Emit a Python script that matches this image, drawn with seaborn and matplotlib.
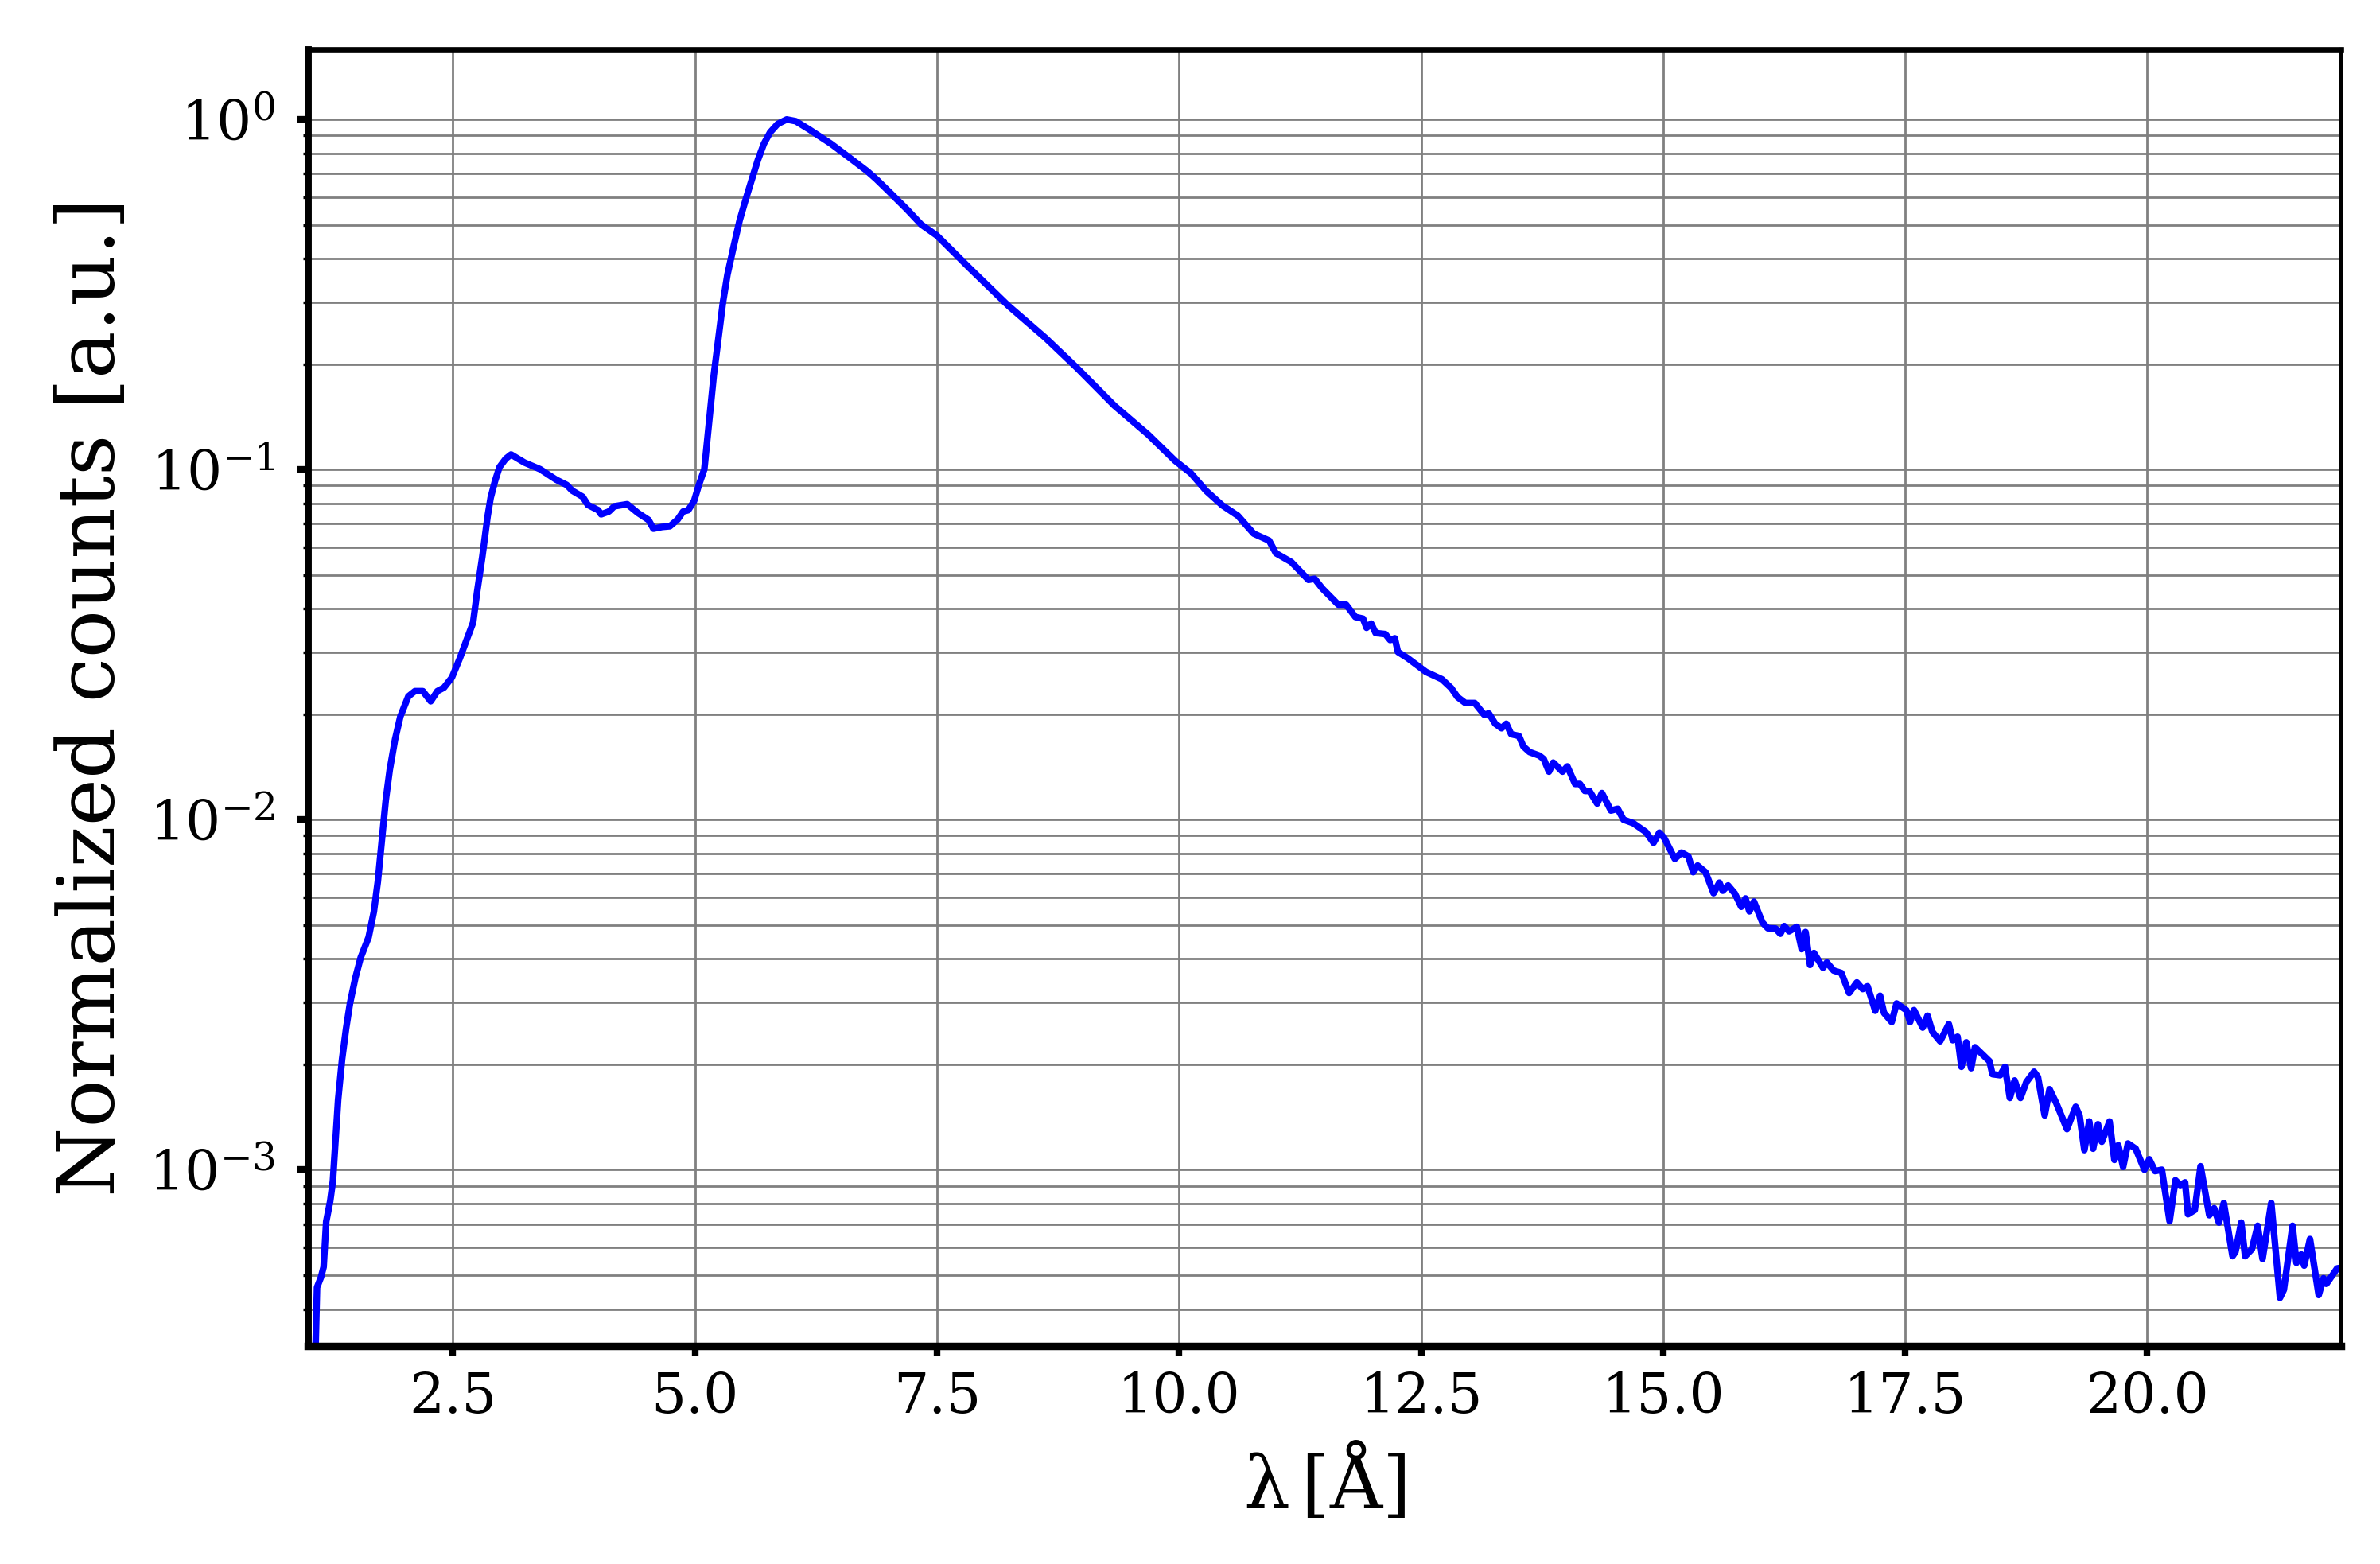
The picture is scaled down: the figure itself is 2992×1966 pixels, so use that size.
#%% imports
import numpy as np
import matplotlib.pyplot as plt
import seaborn as sns
from matplotlib.ticker import MultipleLocator, LogLocator

#%% data (counts kept as log10 of normalized counts)
wavelength = [
    1.06, 1.082, 1.088, 1.096, 1.137, 1.164, 1.191, 1.232, 1.26, 1.287,
    1.314, 1.355, 1.396, 1.437, 1.492, 1.547, 1.629, 1.683, 1.724, 1.765,
    1.806, 1.847, 1.902, 1.957, 2.039, 2.107, 2.189, 2.27, 2.339, 2.407,
    2.489, 2.571, 2.639, 2.708, 2.749, 2.803, 2.857, 2.889, 2.934, 2.98,
    3.045, 3.10, 3.238, 3.40, 3.566, 3.675, 3.73, 3.84, 3.893, 4.0,
    4.03, 4.11, 4.166, 4.30, 4.41, 4.52, 4.57, 4.66, 4.74, 4.82,
    4.877, 4.93, 4.99, 5.04, 5.096, 5.148, 5.194, 5.241, 5.288, 5.335,
    5.398, 5.461, 5.524, 5.586, 5.649, 5.712, 5.775, 5.853, 5.947, 6.041,
    6.182, 6.402, 6.59, 6.78, 6.87, 7.0, 7.186, 7.336, 7.5, 7.83,
    8.24, 8.62, 8.95, 9.33, 9.68, 9.959, 10.12, 10.28, 10.445, 10.607,
    10.77, 10.93, 11.0, 11.158, 11.336, 11.40, 11.48, 11.644, 11.725, 11.82,
    11.90, 11.936, 11.984, 12.03, 12.13, 12.18, 12.228, 12.26, 12.357, 12.55,
    12.714, 12.81, 12.876, 12.957, 13.054, 13.15, 13.20, 13.265, 13.33, 13.38,
    13.43, 13.51, 13.556, 13.62, 13.72, 13.766, 13.82, 13.864, 13.96, 14.01,
    14.09, 14.14, 14.19, 14.238, 14.318, 14.367, 14.46, 14.53, 14.59, 14.69,
    14.82, 14.90, 14.96, 15.01, 15.12, 15.19, 15.26, 15.31, 15.355, 15.437,
    15.52, 15.58, 15.615, 15.67, 15.74, 15.806, 15.85, 15.89, 15.937, 16.025,
    16.08, 16.16, 16.21, 16.25, 16.30, 16.38, 16.43, 16.47, 16.516, 16.557,
    16.65, 16.69, 16.76, 16.84, 16.92, 17.0, 17.06, 17.11, 17.19, 17.24,
    17.28, 17.36, 17.41, 17.51, 17.55, 17.59, 17.68, 17.73, 17.78, 17.86,
    17.95, 17.99, 18.04, 18.08, 18.13, 18.18, 18.22, 18.31, 18.37, 18.40,
    18.48, 18.53, 18.58, 18.63, 18.69, 18.75, 18.83, 18.87, 18.94, 18.99,
    19.06, 19.17, 19.26, 19.30, 19.35, 19.40, 19.44, 19.49, 19.53, 19.61,
    19.66, 19.70, 19.75, 19.80, 19.88, 19.97, 20.02, 20.08, 20.15, 20.23,
    20.29, 20.34, 20.39, 20.42, 20.49, 20.55, 20.64, 20.69, 20.74, 20.79,
    20.88, 20.91, 20.97, 21.01, 21.08, 21.14, 21.19, 21.28, 21.37, 21.41,
    21.50, 21.54, 21.59, 21.62, 21.68, 21.77, 21.82, 21.85, 21.96, 22.0,
]
log_counts = [
    -3.70, -3.495, -3.423, -3.336, -3.307, -3.278, -3.148, -3.09, -3.032, -2.916,
    -2.80, -2.684, -2.597, -2.524, -2.452, -2.394, -2.336, -2.263, -2.177, -2.06,
    -1.944, -1.858, -1.771, -1.705, -1.648, -1.633, -1.633, -1.662, -1.633, -1.623,
    -1.594, -1.539, -1.488, -1.437, -1.35, -1.249, -1.135, -1.081, -1.033, -0.993,
    -0.969, -0.957, -0.98, -0.999, -1.029, -1.044, -1.06, -1.078, -1.101, -1.116,
    -1.128, -1.12, -1.105, -1.099, -1.124, -1.144, -1.169, -1.164, -1.162, -1.143,
    -1.12, -1.116, -1.09, -1.044, -0.999, -0.855, -0.73, -0.627, -0.523, -0.443,
    -0.364, -0.288, -0.228, -0.172, -0.116, -0.069, -0.037, -0.013, 0.0, -0.005,
    -0.029, -0.069, -0.108, -0.148, -0.170, -0.205, -0.256, -0.30, -0.332, -0.423,
    -0.533, -0.624, -0.711, -0.817, -0.900, -0.975, -1.010, -1.061, -1.102, -1.132,
    -1.183, -1.203, -1.239, -1.264, -1.315, -1.312, -1.34, -1.386, -1.386, -1.421,
    -1.426, -1.452, -1.44, -1.467, -1.47, -1.487, -1.482, -1.521, -1.538, -1.578,
    -1.599, -1.624, -1.65, -1.667, -1.667, -1.70, -1.697, -1.726, -1.739, -1.726,
    -1.756, -1.761, -1.791, -1.807, -1.817, -1.827, -1.863, -1.837, -1.863, -1.848,
    -1.898, -1.898, -1.918, -1.918, -1.954, -1.924, -1.974, -1.969, -2.0, -2.01,
    -2.035, -2.066, -2.037, -2.052, -2.112, -2.094, -2.105, -2.15, -2.131, -2.15,
    -2.21, -2.18, -2.203, -2.188, -2.211, -2.249, -2.225, -2.262, -2.234, -2.294,
    -2.31, -2.311, -2.326, -2.304, -2.319, -2.306, -2.37, -2.321, -2.415, -2.381,
    -2.423, -2.408, -2.431, -2.438, -2.495, -2.465, -2.484, -2.476, -2.546, -2.503,
    -2.552, -2.578, -2.525, -2.544, -2.578, -2.544, -2.594, -2.56, -2.606, -2.633,
    -2.584, -2.63, -2.62, -2.706, -2.636, -2.71, -2.65, -2.674, -2.69, -2.727,
    -2.73, -2.706, -2.795, -2.745, -2.795, -2.75, -2.72, -2.735, -2.845, -2.77,
    -2.81, -2.884, -2.82, -2.845, -2.944, -2.862, -2.94, -2.87, -2.92, -2.862,
    -2.972, -2.93, -2.992, -2.925, -2.94, -3.0, -2.97, -3.004, -3.0, -3.147,
    -3.03, -3.044, -3.036, -3.127, -3.115, -2.99, -3.13, -3.11, -3.151, -3.095,
    -3.247, -3.235, -3.151, -3.247, -3.227, -3.16, -3.255, -3.095, -3.366, -3.343,
    -3.16, -3.266, -3.242, -3.274, -3.198, -3.358, -3.31, -3.326, -3.282, -3.28,
]
counts = 10.0 ** np.array(log_counts)

#%% style
sns.set_style('white')
plt.rcParams['font.family'] = ['DejaVu Serif']
plt.rcParams['mathtext.fontset'] = 'dejavuserif'
for key in ['text.color', 'axes.labelcolor', 'xtick.color', 'ytick.color']:
    plt.rcParams[key] = 'black'

#%% plot
fig, ax = plt.subplots(figsize=(7.48, 4.915), dpi=400)
fig.subplots_adjust(left=0.1293, right=0.9836, bottom=0.1395, top=0.9687)

sns.lineplot(x=wavelength, y=counts, color='#0000ff', lw=1.5, ax=ax)

ax.set_yscale('log')
ax.set_xlim(1.0, 22.0)
ax.set_ylim(10 ** -3.503, 1.59)
ax.xaxis.set_major_locator(MultipleLocator(2.5))
ax.yaxis.set_major_locator(LogLocator(base=10))
ax.yaxis.set_minor_locator(LogLocator(base=10, subs=np.arange(2, 10)))

ax.set_axisbelow(True)
ax.grid(True, which='major', axis='both', color='gray', lw=0.5)
ax.grid(True, which='minor', axis='y', color='gray', lw=0.5)

for side, w in {'left': 1.6, 'bottom': 1.7, 'top': 1.2, 'right': 0.8}.items():
    ax.spines[side].set_linewidth(w)
    ax.spines[side].set_color('black')

ax.tick_params(axis='both', which='major', direction='out', length=2.3, width=1.5,
               labelsize=12.5, color='black', labelcolor='black', bottom=True, left=True)
ax.tick_params(axis='y', which='major', pad=5)
ax.tick_params(axis='y', which='minor', direction='out', length=1.0, width=0.6,
               left=True, color='black')

ax.set_xlabel(r'$\mathrm{\lambda}\,\left[\mathrm{\AA}\right]$', fontsize=16.5, labelpad=4)
ax.set_ylabel('Normalized counts [a.u.]', fontsize=18)

fig.savefig('out.png', dpi=400)
